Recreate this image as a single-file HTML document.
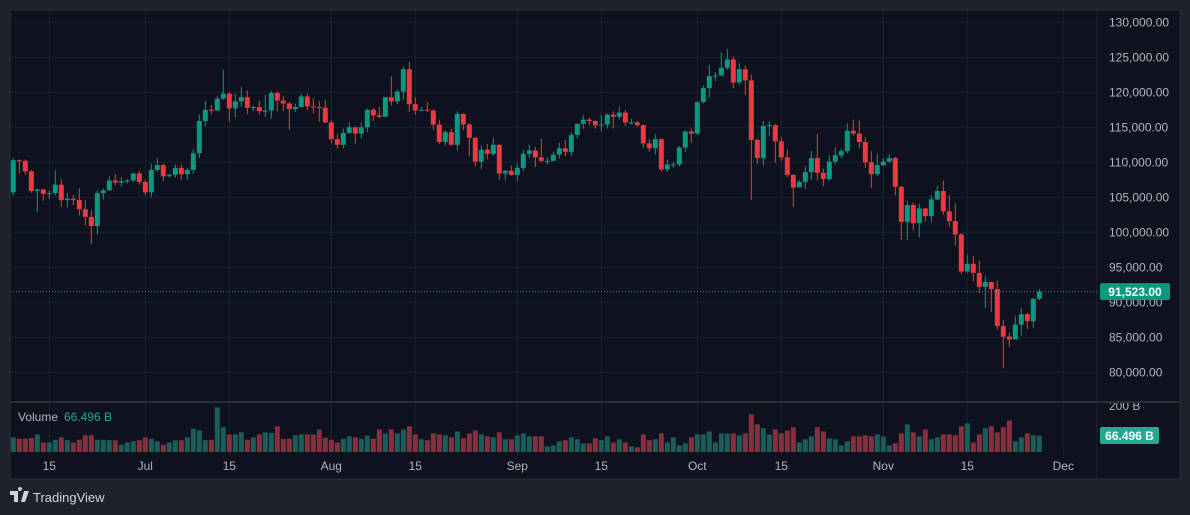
<!DOCTYPE html>
<html><head><meta charset="utf-8"><style>
html,body{margin:0;padding:0;background:#1e222d;}
svg{display:block;font-family:"Liberation Sans",sans-serif;}
</style></head><body>
<svg id="chart" width="1190" height="515" viewBox="0 0 1190 515" xmlns="http://www.w3.org/2000/svg">
<defs><clipPath id="volclip"><rect x="1097" y="403" width="83" height="20"/></clipPath></defs>
<rect x="0" y="0" width="1190" height="515" fill="#1e222d"/>
<rect x="10" y="10" width="1170" height="469" fill="#0d121e" stroke="#2a2e39" stroke-width="1"/>
<g id="grid"></g>
<g id="volumes"></g>
<g id="candles"></g>
<line x1="10" y1="402" x2="1180" y2="402" stroke="#2a2e39" stroke-width="2"/>
<line x1="1097" y1="10" x2="1097" y2="479" stroke="#1e222d" stroke-width="1"/>
<g id="yaxis" font-size="12" fill="#b2b5be"></g>
<g id="xaxis" font-size="12" fill="#b2b5be"></g>
<text x="1109" y="410" font-size="12" fill="#b2b5be" clip-path="url(#volclip)">200 B</text>
<line id="lastline" x1="10" x2="1097" stroke="#089981" stroke-width="1" stroke-dasharray="1 2"/>
<g>
<rect id="lastbox" x="1100" width="70" height="17" rx="2" fill="#089981"/>
<text id="lasttext" x="1135" font-size="12" font-weight="bold" fill="#ffffff" text-anchor="middle">91,523.00</text>
</g>
<g>
<rect x="1100" y="427" width="59" height="17" rx="2" fill="#22ab94"/>
<text x="1129.5" y="440" font-size="12" font-weight="bold" fill="#ffffff" text-anchor="middle">66.496 B</text>
</g>
<g>
<text x="18" y="421" font-size="12" fill="#b2b5be">Volume</text>
<text x="64" y="421" font-size="12" fill="#22ab94">66.496 B</text>
</g>
<g>
<path d="M10 491h8v11h-4v-7h-4z M20 491a2 2 0 1 1 0.01 0z M24 491h5l-4 11h-4z" fill="#d1d4dc"/>
<text x="33" y="502" font-size="13" fill="#d1d4dc">TradingView</text>
</g>
</svg>
<script>
const opens=[105.7,110.3,110.2,108.7,105.9,106.1,105.5,105.6,106.8,104.6,104.8,104.6,103.3,102.2,100.9,105.6,106.0,107.4,107.1,107.3,107.4,108.4,107.2,105.7,108.9,109.6,108.0,108.2,109.2,108.3,108.9,111.3,115.9,117.5,117.4,119.1,119.8,117.7,118.7,119.3,117.8,117.9,117.3,117.4,119.9,118.8,118.4,117.6,117.9,119.4,118.0,117.9,117.8,115.7,113.3,112.5,114.2,115.0,114.1,115.0,117.5,116.7,116.5,119.3,118.7,120.1,123.3,118.3,117.4,117.5,117.4,115.4,112.9,114.3,112.5,116.9,115.4,113.5,110.1,111.8,111.2,112.5,108.4,108.8,108.2,109.2,111.2,111.7,110.7,110.2,110.2,111.1,112.0,111.5,113.9,115.5,116.1,115.9,115.3,115.4,116.8,116.5,117.1,115.7,115.7,115.3,112.7,112.0,113.3,109.0,109.7,109.7,112.1,114.4,114.1,118.6,120.6,122.3,122.4,123.5,124.7,121.4,123.3,121.7,113.2,110.6,115.2,115.3,113.0,110.7,108.2,106.4,107.2,108.6,110.6,108.5,107.6,110.1,111.0,111.6,114.5,114.1,112.9,110.0,108.3,109.6,110.1,110.6,106.5,101.5,103.9,101.3,103.4,102.3,104.7,105.9,103.0,101.6,99.7,94.4,95.5,94.2,92.2,92.9,91.9,86.6,85.1,84.7,86.8,88.3,87.3,90.5];
const closes=[110.3,110.2,108.7,105.9,106.1,105.5,105.6,106.8,104.6,104.8,104.6,103.3,102.2,100.9,105.6,106.0,107.4,107.1,107.3,107.4,108.4,107.2,105.7,108.9,109.6,108.0,108.2,109.2,108.3,108.9,111.3,115.9,117.5,117.4,119.1,119.8,117.7,118.7,119.3,117.8,117.9,117.3,117.4,119.9,118.8,118.4,117.6,117.9,119.4,118.0,117.9,117.8,115.7,113.3,112.5,114.2,115.0,114.1,115.0,117.5,116.7,116.5,119.3,118.7,120.1,123.3,118.3,117.4,117.5,117.4,115.4,112.9,114.3,112.5,116.9,115.4,113.5,110.1,111.8,111.2,112.5,108.4,108.8,108.2,109.2,111.2,111.7,110.7,110.2,110.2,111.1,112.0,111.5,113.9,115.5,116.1,115.9,115.3,115.4,116.8,116.5,117.1,115.7,115.7,115.3,112.7,112.0,113.3,109.0,109.7,109.7,112.1,114.4,114.1,118.6,120.6,122.3,122.4,123.5,124.7,121.4,123.3,121.7,113.2,110.6,115.2,115.3,113.0,110.7,108.2,106.4,107.2,108.6,110.6,108.5,107.6,110.1,111.0,111.6,114.5,114.1,112.9,110.0,108.3,109.6,110.1,110.6,106.5,101.5,103.9,101.3,103.4,102.3,104.7,105.9,103.0,101.6,99.7,94.4,95.5,94.2,92.2,92.9,91.9,86.6,85.1,84.7,86.8,88.3,87.3,90.5,91.523];
const highs=[110.6,110.4,110.4,108.9,106.2,106.2,106.0,108.9,107.6,105.6,105.3,106.3,104.6,103.2,106.0,106.3,108.0,108.3,107.9,107.6,108.5,108.8,107.5,109.8,110.6,109.8,108.4,109.7,109.7,109.2,111.9,116.8,118.8,118.2,119.5,123.2,120.0,119.8,120.8,120.2,118.1,118.8,119.6,120.2,120.1,119.5,118.6,118.4,119.8,119.8,119.2,118.8,118.9,116.0,114.0,114.8,115.7,115.1,115.7,117.7,117.7,117.9,119.3,122.3,120.4,123.7,124.3,119.3,117.9,118.6,117.6,116.1,114.6,114.8,117.3,117.0,115.6,113.6,112.4,112.6,113.5,112.6,108.9,109.5,109.9,111.8,112.5,112.2,113.4,110.7,111.5,112.8,113.2,114.3,115.5,116.7,116.4,116.0,116.8,117.0,117.3,117.9,117.5,116.2,115.9,115.4,113.3,114.0,113.4,110.4,110.0,112.3,114.5,114.8,118.7,121.0,123.9,122.9,125.7,126.2,125.1,124.2,123.8,122.5,113.4,115.9,115.9,115.5,113.6,111.8,108.3,107.5,109.4,111.6,114.0,109.1,111.0,112.1,111.9,115.5,116.1,116.0,113.6,111.6,111.2,110.6,111.2,110.8,106.6,104.5,104.2,104.1,103.5,105.3,106.6,107.4,105.3,104.1,99.9,96.8,96.6,96.0,93.8,92.9,93.1,87.5,85.6,88.1,89.2,88.5,90.6,91.9];
const lows=[105.3,108.4,108.2,105.6,102.9,104.5,104.8,105.3,103.6,103.6,103.9,102.4,101.0,98.3,99.7,104.7,105.9,106.7,106.5,107.0,107.2,106.8,105.3,105.0,108.6,107.3,107.8,107.8,107.5,107.5,108.4,110.6,115.2,116.9,117.3,118.9,115.8,116.4,117.9,116.9,117.3,116.8,116.5,116.2,117.3,117.3,114.7,117.2,117.8,117.4,117.0,115.8,115.6,112.7,112.0,112.0,114.1,112.7,113.4,114.3,115.9,116.3,116.5,118.1,118.3,118.9,117.2,116.8,117.3,117.2,114.6,112.6,112.4,112.4,111.7,114.6,110.9,109.4,109.0,110.4,110.9,107.5,107.4,108.1,107.3,108.7,110.6,109.3,110.0,109.7,110.2,110.5,110.9,110.9,113.4,114.8,115.3,114.8,114.4,114.8,114.8,116.1,115.2,115.4,115.1,112.0,111.5,111.1,108.7,108.6,109.2,109.4,111.5,112.8,113.9,118.4,119.3,121.6,122.3,123.2,120.6,121.1,119.6,104.6,109.7,109.5,113.8,109.9,110.2,107.9,103.6,106.4,106.2,107.5,107.4,106.6,107.4,109.7,110.6,111.3,113.8,112.0,109.2,106.3,108.0,109.4,109.9,105.3,98.9,98.9,100.3,99.3,101.5,101.4,104.6,102.5,100.8,98.1,94.0,94.2,93.0,91.3,89.2,88.6,86.1,80.6,83.6,84.7,85.3,86.2,86.4,90.3];
const volumes=[60,54,54,57,72,39,39,50,60,48,39,50,68,68,50,50,48,48,30,39,44,48,60,54,44,30,39,48,48,60,95,88,48,50,182,101,72,72,80,50,60,72,80,78,105,53,54,68,72,72,72,91,58,50,39,54,64,60,54,67,54,92,76,
92,76,92,105,72,52,48,76,72,68,60,84,56,76,88,72,64,60,80,52,52,68,76,64,64,64,23,27,44,48,60,52,35,35,56,48,64,39,52,39,23,19,72,48,52,76,39,60,27,35,60,72,72,84,39,76,76,76,68,76,154,113,97,72,92,76,88,101,39,52,64,101,84,56,52,27,44,64,64,68,64,72,64,27,35,76,113,80,64,92,52,60,72,72,68,105,117,39,72,97,105,80,101,129,44,60,76,68,66.5];
const priceTicks=[80000,85000,90000,95000,100000,105000,110000,115000,120000,125000,130000];
const timeTickLabels=["15","Jul","15","Aug","15","Sep","15","Oct","15","Nov","15","Dec"];
const timeTickIndex=[6,22,36,53,67,84,98,114,128,145,159,175];
const lastPrice=91523;

const NS="http://www.w3.org/2000/svg";
function xOf(i){return 13.3+6*i;}
function yOf(p){return 22.3+(130000-p)/5000*35;}
function yVol(v){return 452-v*0.245;}
function mk(tag,attrs,parent){const e=document.createElementNS(NS,tag);for(const k in attrs)e.setAttribute(k,attrs[k]);parent.appendChild(e);return e;}
const grid=document.getElementById('grid');
const yaxis=document.getElementById('yaxis');
const xaxis=document.getElementById('xaxis');
priceTicks.forEach(p=>{
  const y=yOf(p);
  const l=mk('line',{x1:10,x2:1097,y1:y,y2:y,stroke:'#1c2130','stroke-width':1},grid);
  
  
  const t=mk('text',{x:1109,y:y+4},yaxis);
  t.textContent=p.toLocaleString('en-US',{minimumFractionDigits:2});
  
  
});
timeTickIndex.forEach((idx,k)=>{
  const x=xOf(idx);
  const l=mk('line',{x1:x,x2:x,y1:10,y2:455,stroke:'#1c2130','stroke-width':1},grid);
  
  
  const t=mk('text',{x:x,y:470,'text-anchor':'middle'},xaxis);
  t.textContent=timeTickLabels[k];
  
  
});
const cg=document.getElementById('candles');
const vg=document.getElementById('volumes');
for(let i=0;i<closes.length;i++){
  const o=opens[i]*1000,c=closes[i]*1000,h=highs[i]*1000,lo=lows[i]*1000;
  const up=c>=o;
  const col=up?'#089981':'#f23645';
  const x=xOf(i);
  const g=mk('g',{},cg);
  
  
  mk('rect',{x:x-0.5,y:yOf(h),width:1,height:Math.max(1,yOf(lo)-yOf(h)),fill:col},g);
  const top=yOf(Math.max(o,c)),bot=yOf(Math.min(o,c));
  mk('rect',{x:x-2.5,y:top,width:5,height:Math.max(1,bot-top),fill:col},g);
  const vb=mk('rect',{x:x-2.5,y:yVol(volumes[i]),width:5,height:452-yVol(volumes[i]),fill:up?'#1b5e59':'#86303f'},vg);
  
  
}
const ly=yOf(lastPrice);
const ll=document.getElementById('lastline');ll.setAttribute('y1',ly);ll.setAttribute('y2',ly);
document.getElementById('lastbox').setAttribute('y',ly-8.5);
document.getElementById('lasttext').setAttribute('y',ly+4.5);
</script>
</body></html>
